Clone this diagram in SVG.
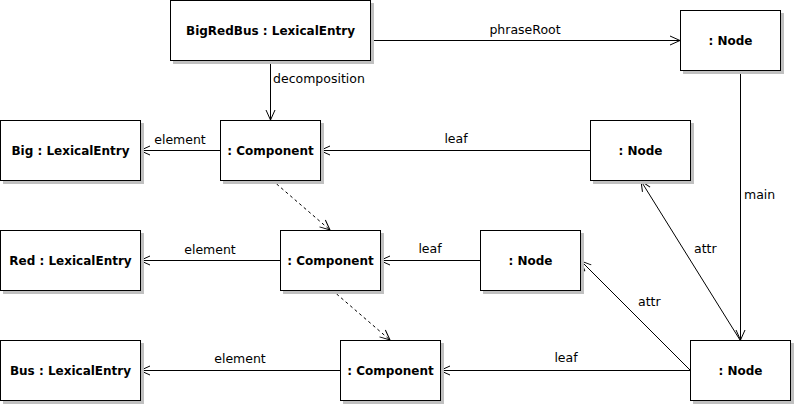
<svg xmlns="http://www.w3.org/2000/svg" width="795" height="405" viewBox="0 0 795 405">
<style>
.box{fill:#fff;stroke:#000;stroke-width:1}
.sh{fill:#c0c0c0}
.t{font-family:"DejaVu Sans",sans-serif;font-size:12px;font-weight:bold;text-anchor:middle;fill:#000}
.l{font-family:"DejaVu Sans",sans-serif;font-size:12.5px;fill:#000}
.c{stroke:#000;stroke-width:1;fill:none;marker-end:url(#arr)}
.d{stroke-dasharray:3,3}
</style>
<defs>
<marker id="arr" markerUnits="userSpaceOnUse" markerWidth="14" markerHeight="12" viewBox="-12 -6 14 12" refX="0" refY="0" orient="auto">
<path d="M-10,-4.5 L0,0 L-10,4.5" fill="none" stroke="#000" stroke-width="1"/>
</marker>
</defs>
<rect width="795" height="405" fill="#fff"/>
<g id="connectors">
<line class="c" x1="370" y1="40.5" x2="680" y2="40.5"/>
<text class="l" x="525" y="34" text-anchor="middle">phraseRoot</text>
<line class="c" x1="270.5" y1="60" x2="270.5" y2="120"/>
<text class="l" x="273" y="83">decomposition</text>
<line class="c" x1="220" y1="150.5" x2="140" y2="150.5"/>
<text class="l" x="180" y="144" text-anchor="middle">element</text>
<line class="c" x1="590" y1="150.5" x2="320" y2="150.5"/>
<text class="l" x="456" y="143" text-anchor="middle">leaf</text>
<line class="c d" x1="272" y1="180" x2="330" y2="230"/>
<line class="c" x1="280" y1="260.5" x2="140" y2="260.5"/>
<text class="l" x="210" y="254" text-anchor="middle">element</text>
<line class="c" x1="480" y1="260.5" x2="380" y2="260.5"/>
<text class="l" x="430" y="253" text-anchor="middle">leaf</text>
<line class="c d" x1="332" y1="290" x2="390" y2="340"/>
<line class="c" x1="340" y1="370.5" x2="140" y2="370.5"/>
<text class="l" x="240" y="363" text-anchor="middle">element</text>
<line class="c" x1="690" y1="370.5" x2="440" y2="370.5"/>
<text class="l" x="566" y="362" text-anchor="middle">leaf</text>
<line class="c" x1="740.5" y1="70" x2="740.5" y2="340"/>
<text class="l" x="744" y="199">main</text>
<line class="c" x1="740" y1="340" x2="641" y2="181"/>
<text class="l" x="694" y="253">attr</text>
<line class="c" x1="690" y1="370" x2="581" y2="261"/>
<text class="l" x="638" y="306">attr</text>
</g>
<g id="n-bigredbus">
<rect class="sh" x="173" y="3" width="201" height="61"/>
<rect class="box" x="170.5" y="0.5" width="200" height="60"/>
<text class="t" x="270.5" y="34.5">BigRedBus : LexicalEntry</text>
</g>
<g id="n-node-top">
<rect class="sh" x="683" y="13" width="101" height="61"/>
<rect class="box" x="680.5" y="10.5" width="100" height="60"/>
<text class="t" x="730.5" y="44.5">: Node</text>
</g>
<g id="n-big">
<rect class="sh" x="3" y="123" width="141" height="61"/>
<rect class="box" x="0.5" y="120.5" width="140" height="60"/>
<text class="t" x="70.5" y="154.5">Big : LexicalEntry</text>
</g>
<g id="n-comp1">
<rect class="sh" x="223" y="123" width="101" height="61"/>
<rect class="box" x="220.5" y="120.5" width="100" height="60"/>
<text class="t" x="270.5" y="154.5">: Component</text>
</g>
<g id="n-node-mid">
<rect class="sh" x="593" y="123" width="101" height="61"/>
<rect class="box" x="590.5" y="120.5" width="100" height="60"/>
<text class="t" x="640.5" y="154.5">: Node</text>
</g>
<g id="n-red">
<rect class="sh" x="3" y="233" width="141" height="61"/>
<rect class="box" x="0.5" y="230.5" width="140" height="60"/>
<text class="t" x="70.5" y="264.5">Red : LexicalEntry</text>
</g>
<g id="n-comp2">
<rect class="sh" x="283" y="233" width="101" height="61"/>
<rect class="box" x="280.5" y="230.5" width="100" height="60"/>
<text class="t" x="330.5" y="264.5">: Component</text>
</g>
<g id="n-node-red">
<rect class="sh" x="483" y="233" width="101" height="61"/>
<rect class="box" x="480.5" y="230.5" width="100" height="60"/>
<text class="t" x="530.5" y="264.5">: Node</text>
</g>
<g id="n-bus">
<rect class="sh" x="3" y="343" width="141" height="61"/>
<rect class="box" x="0.5" y="340.5" width="140" height="60"/>
<text class="t" x="70.5" y="374.5">Bus : LexicalEntry</text>
</g>
<g id="n-comp3">
<rect class="sh" x="343" y="343" width="101" height="61"/>
<rect class="box" x="340.5" y="340.5" width="100" height="60"/>
<text class="t" x="390.5" y="374.5">: Component</text>
</g>
<g id="n-node-bottom">
<rect class="sh" x="693" y="343" width="101" height="61"/>
<rect class="box" x="690.5" y="340.5" width="100" height="60"/>
<text class="t" x="740.5" y="374.5">: Node</text>
</g>
</svg>
